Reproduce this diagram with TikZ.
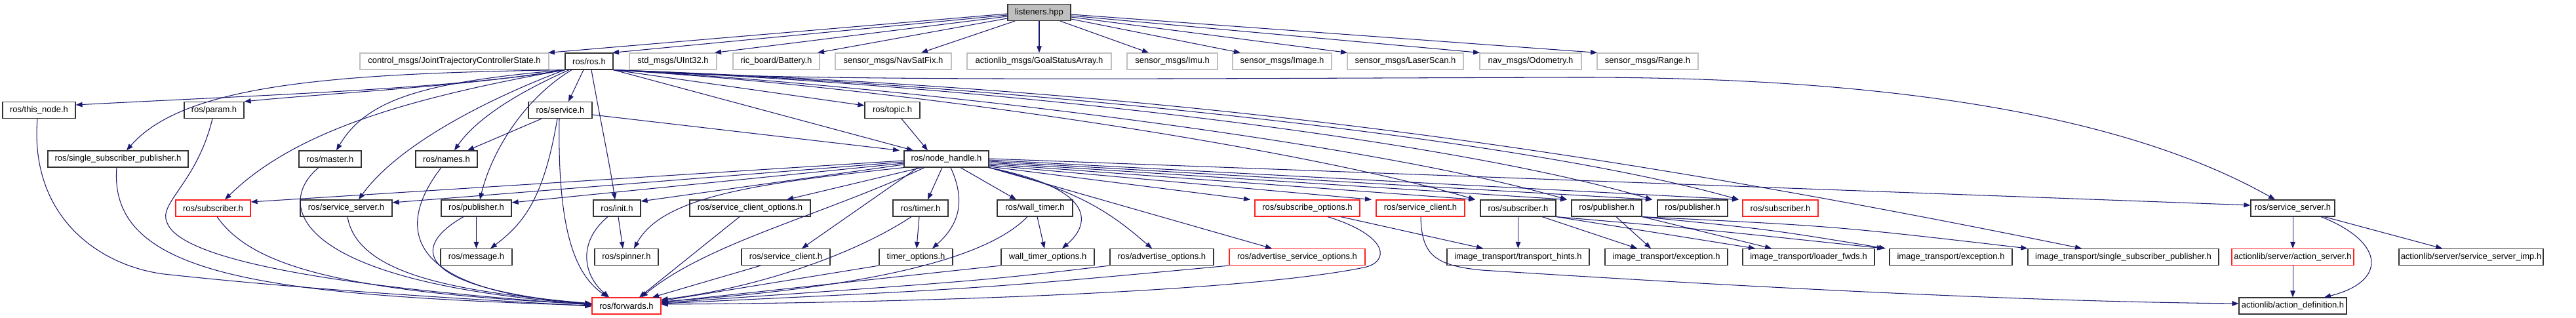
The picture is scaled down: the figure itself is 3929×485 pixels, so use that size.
\documentclass[tikz,border=0pt]{standalone}
\usepackage{fontspec}
\setmainfont{Liberation Sans}
\usetikzlibrary{arrows.meta}
\definecolor{edgec}{HTML}{191970}
\definecolor{grayb}{HTML}{BFBFBF}
\definecolor{boxb}{HTML}{333333}
\definecolor{redb}{HTML}{FF2020}
\tikzset{
  nb/.style={draw=boxb, line width=1.2bp, minimum height=25bp, inner sep=0pt,
    font=\fontsize{13bp}{15bp}\selectfont, text=black},
  ng/.style={nb, draw=grayb},
  nr/.style={nb, draw=redb},
  wd/.style={minimum width=#1bp},
  e/.style={draw=edgec, line width=1.05bp, -{Triangle[length=10bp,width=7.5bp]}},
}
\begin{document}
\begin{tikzpicture}[x=1bp,y=-1bp]
\useasboundingbox[fill=white] (0,0) rectangle (3929,485);
% row 0
\node[nb,fill=grayb,wd=96] (lis) at (1585,19) {listeners.hpp};
% row 1
\node[ng,wd=288] (cms) at (693,93.5) {control\_msgs/JointTrajectoryControllerState.h};
\node[nb,wd=73] (ros) at (898.5,93.5) {ros/ros.h};
\node[ng,wd=133] (u32) at (1026.5,93.5) {std\_msgs/UInt32.h};
\node[ng,wd=132] (bat) at (1184,93.5) {ric\_board/Battery.h};
\node[ng,wd=177] (nsf) at (1362.5,93.5) {sensor\_msgs/NavSatFix.h};
\node[ng,wd=220] (gsa) at (1585,93.5) {actionlib\_msgs/GoalStatusArray.h};
\node[ng,wd=138] (imu) at (1788,93.5) {sensor\_msgs/Imu.h};
\node[ng,wd=151] (img) at (1955.5,93.5) {sensor\_msgs/Image.h};
\node[ng,wd=177] (las) at (2143.5,93.5) {sensor\_msgs/LaserScan.h};
\node[ng,wd=155] (odo) at (2334.5,93.5) {nav\_msgs/Odometry.h};
\node[ng,wd=154] (rng) at (2513,93.5) {sensor\_msgs/Range.h};
% row 2
\node[nb,wd=111] (tn) at (59.5,168) {ros/this\_node.h};
\node[nb,wd=91] (par) at (326.5,168) {ros/param.h};
\node[nb,wd=97] (srv) at (854.5,168) {ros/service.h};
\node[nb,wd=84] (top) at (1361,168) {ros/topic.h};
% row 3
\node[nb,wd=214] (ssp) at (180,242.5) {ros/single\_subscriber\_publisher.h};
\node[nb,wd=95] (mas) at (503.5,242.5) {ros/master.h};
\node[nb,wd=94] (nam) at (681,242.5) {ros/names.h};
\node[nb,wd=129] (nh) at (1443.5,242.5) {ros/node\_handle.h};
% row 4
\node[nr,wd=114] (subL) at (325,317.5) {ros/subscriber.h};
\node[nb,wd=140] (ssL) at (528,317.5) {ros/service\_server.h};
\node[nb,wd=107] (pubL) at (726.5,317.5) {ros/publisher.h};
\node[nb,wd=72] (ini) at (941,317.5) {ros/init.h};
\node[nb,wd=184] (sco) at (1144,317.5) {ros/service\_client\_options.h};
\node[nb,wd=84] (tim) at (1404,317.5) {ros/timer.h};
\node[nb,wd=115] (wt) at (1578.5,317.5) {ros/wall\_timer.h};
\node[nr,wd=160] (so) at (1994,317.5) {ros/subscribe\_options.h};
\node[nr,wd=135] (scR) at (2166.5,317.5) {ros/service\_client.h};
\node[nb,wd=115] (subB) at (2315.5,317.5) {ros/subscriber.h};
\node[nb,wd=107] (pub1) at (2450.5,317.5) {ros/publisher.h};
\node[nb,wd=107] (pub2) at (2581.5,317.5) {ros/publisher.h};
\node[nr,wd=115] (subR) at (2715.5,317.5) {ros/subscriber.h};
\node[nb,wd=128] (ssR) at (3497,317.5) {ros/service\_server.h};
% row 5
\node[nb,wd=109] (msg) at (726.5,392) {ros/message.h};
\node[nb,wd=97] (spn) at (955.5,392) {ros/spinner.h};
\node[nb,wd=135] (sc) at (1198.5,392) {ros/service\_client.h};
\node[nb,wd=112] (tmo) at (1397,392) {timer\_options.h};
\node[nb,wd=142] (wto) at (1598,392) {wall\_timer\_options.h};
\node[nb,wd=158] (ao) at (1772,392) {ros/advertise\_options.h};
\node[nr,wd=207] (aso) at (1978.5,392) {ros/advertise\_service\_options.h};
\node[nb,wd=217] (th) at (2315.5,392) {image\_transport/transport\_hints.h};
\node[nb,wd=187] (ex1) at (2541.5,392) {image\_transport/exception.h};
\node[nb,wd=201] (lf) at (2758.5,392) {image\_transport/loader\_fwds.h};
\node[nb,wd=187] (ex2) at (2975.5,392) {image\_transport/exception.h};
\node[nb,wd=291] (itssp) at (3238.5,392) {image\_transport/single\_subscriber\_publisher.h};
\node[nr,wd=186] (acs) at (3497,392) {actionlib/server/action\_server.h};
\node[nb,wd=220] (ssi) at (3769,392) {actionlib/server/service\_server\_imp.h};
% row 6
\node[nr,wd=105] (fwd) at (955.5,466.5) {ros/forwards.h};
\node[nb,wd=164] (ad) at (3497,466.5) {actionlib/action\_definition.h};

% ---- listeners.hpp
\draw[e] (lis.west |- 0,21) -- (cms.north -| 836,0);
\draw[e] (lis.west |- 0,23) -- (ros.north -| 934,0);
\draw[e] (lis.west |- 0,25) -- (u32.north -| 1090,0);
\draw[e] (lis.west |- 0,28) -- (bat.north -| 1247,0);
\draw[e] (lis.south -| 1548,0) -- (nsf.north -| 1405,0);
\draw[e] (lis.south) -- (gsa.north);
\draw[e] (lis.south -| 1617,0) -- (imu.north -| 1752,0);
\draw[e] (lis.east |- 0,29) -- (img.north -| 1892,0);
\draw[e] (lis.east |- 0,26) -- (las.north -| 2055,0);
\draw[e] (lis.east |- 0,24) -- (odo.north -| 2257,0);
\draw[e] (lis.east |- 0,22) -- (rng.north -| 2436,0);

% ---- ros/ros.h
\draw[e] (ros.south west) .. controls (700,135) and (400,145) .. (tn.east |- 0,160);
\draw[e] (ros.south west) .. controls (700,133) and (500,142) .. (par.north east);
\draw[e] (ros.south west) .. controls (500,112) and (280,130) .. (ssp.north -| 193,0);
\draw[e] (ros.south west) .. controls (620,150) and (450,200) .. (subL.north -| 343,0);
\draw[e] (ros.south west) .. controls (650,125) and (560,150) .. (mas.north -| 513,0);
\draw[e] (ros.south west) .. controls (720,160) and (600,230) .. (ssL.north -| 547,0);
\draw[e] (ros.south -| 868,0) .. controls (770,150) and (720,190) .. (nam.north -| 693,0);
\draw[e] (ros.south -| 872,0) .. controls (800,150) and (750,230) .. (pubL.north -| 732,0);
\draw[e] (ros.south -| 890,0) -- (srv.north -| 867,0);
\draw[e] (ros.south -| 902,0) .. controls (915,180) and (930,250) .. (ini.north -| 938,0);
\draw[e] (ros.south east) -- (top.west |- 0,161);
\draw[e] (ros.south east) -- (nh.north -| 1393,0);
\draw[e] (ros.south east) .. controls (1200,125) and (1700,120) .. (2400,118) .. controls (2900,117) and (3250,180) .. (ssR.north -| 3470,0);
\draw[e] (ros.south east) .. controls (1700,135) and (2300,200) .. (itssp.north -| 3175,0);
\draw[e] (ros.south east) .. controls (1400,135) and (2000,230) .. (subB.north -| 2250,0);
\draw[e] (ros.south east) .. controls (1400,132) and (2100,220) .. (pub1.north -| 2390,0);
\draw[e] (ros.south east) .. controls (1500,130) and (2200,210) .. (pub2.north -| 2520,0);
\draw[e] (ros.south east) .. controls (1500,128) and (2300,205) .. (subR.north -| 2652,0);

% ---- ros/service.h, ros/topic.h
\draw[e] (top.south -| 1375,0) -- (nh.north -| 1415,0);
\draw[e] (srv.east |- 0,175) -- (nh.north -| 1372,0);
\draw[e] (srv.south -| 826,0) -- (nam.north -| 713,0);
\draw[e] (srv.south -| 850,0) .. controls (830,300) and (800,340) .. (msg.north -| 748,0);
\draw[e] (srv.south -| 853,0) .. controls (850,360) and (880,420) .. (fwd.north -| 927,0);

% ---- into ros/forwards.h from the left
\draw[e] (pubL.south) -- (msg.north);
\draw[e] (pubL.south -| 707,0) .. controls (620,380) and (640,440) .. (fwd.west |- 0,464);
\draw[e] (nam.south -| 673,0) .. controls (600,350) and (620,445) .. (fwd.west |- 0,463);
\draw[e] (ssL.south -| 530,0) .. controls (545,420) and (700,445) .. (fwd.west |- 0,463);
\draw[e] (mas.south -| 486,0) .. controls (420,310) and (440,430) .. (fwd.west |- 0,464);
\draw[e] (subL.south -| 331,0) .. controls (380,400) and (500,445) .. (fwd.west |- 0,464);
\draw[e] (par.south -| 324,0) .. controls (300,280) and (240,310) .. (255,340) .. controls (270,380) and (400,430) .. (fwd.west |- 0,465);
\draw[e] (ssp.south -| 178,0) .. controls (165,420) and (400,450) .. (fwd.west |- 0,466);
\draw[e] (tn.south -| 57,0) .. controls (45,330) and (150,405) .. (250,418) .. controls (500,445) and (750,458) .. (fwd.west |- 0,467);

% ---- ros/init.h
\draw[e] (ini.south -| 927,0) .. controls (880,370) and (890,420) .. (fwd.north -| 929,0);
\draw[e] (ini.south -| 943,0) -- (spn.north -| 950,0);

% ---- ros/node_handle.h
\draw[e] (nh.south west) .. controls (1150,280) and (1010,300) .. (spn.north -| 967,0);
\draw[e] (nh.west |- 0,245) -- (subL.east |- 0,308);
\draw[e] (nh.west |- 0,247) -- (ssL.east |- 0,309);
\draw[e] (nh.west |- 0,249) -- (pubL.east |- 0,309);
\draw[e] (nh.west |- 0,251) -- (ini.east |- 0,307);
\draw[e] (nh.south -| 1405,0) -- (sco.north -| 1200,0);
\draw[e] (nh.south -| 1410,0) .. controls (1250,330) and (1080,370) .. (fwd.north -| 978,0);
\draw[e] (nh.south -| 1400,0) -- (sc.north -| 1223,0);
\draw[e] (nh.south -| 1437,0) -- (tim.north -| 1415,0);
\draw[e] (nh.south -| 1450,0) .. controls (1475,310) and (1460,345) .. (tmo.north -| 1422,0);
\draw[e] (nh.south -| 1465,0) -- (wt.north -| 1550,0);
\draw[e] (nh.south east) .. controls (1680,290) and (1660,345) .. (wto.north -| 1620,0);
\draw[e] (nh.south east) .. controls (1650,290) and (1700,330) .. (ao.north -| 1757,0);
\draw[e] (nh.south east) -- (aso.north -| 1940,0);
\draw[e] (nh.east |- 0,254) -- (so.north -| 1907,0);
\draw[e] (nh.east |- 0,252) -- (scR.north -| 2092,0);
\draw[e] (nh.east |- 0,250) -- (subB.north -| 2250,0);
\draw[e] (nh.east |- 0,248) -- (pub1.north -| 2390,0);
\draw[e] (nh.east |- 0,246) -- (pub2.north -| 2520,0);
\draw[e] (nh.east |- 0,244) -- (subR.north -| 2652,0);
\draw[e] (nh.east |- 0,242) -- (ssR.west |- 0,313);

% ---- timers, options, clients
\draw[e] (tim.south -| 1402,0) -- (tmo.north -| 1398,0);
\draw[e] (tim.south -| 1390,0) .. controls (1300,390) and (1150,440) .. (fwd.east |- 0,457);
\draw[e] (tmo.south west) -- (fwd.east |- 0,459);
\draw[e] (sc.south -| 1160,0) -- (fwd.north -| 995,0);
\draw[e] (sco.south -| 1128,0) -- (fwd.north -| 975,0);
\draw[e] (wt.south -| 1567,0) .. controls (1500,400) and (1300,440) .. (fwd.east |- 0,460);
\draw[e] (wt.south -| 1582,0) -- (wto.north -| 1593,0);
\draw[e] (wto.south west) -- (fwd.east |- 0,461);
\draw[e] (ao.south west) .. controls (1500,428) .. (fwd.east |- 0,462);
\draw[e] (aso.south west) .. controls (1500,440) .. (fwd.east |- 0,463);
\draw[e] (so.south -| 2025,0) .. controls (2120,360) and (2120,400) .. (2080,408) .. controls (1900,445) and (1400,462) .. (fwd.east |- 0,464);
\draw[e] (so.south -| 2045,0) -- (th.north -| 2262,0);
\draw[e] (scR.south -| 2167,0) .. controls (2168,390) and (2190,405) .. (2260,412) .. controls (2700,440) and (3100,460) .. (ad.west |- 0,463);

% ---- image_transport
\draw[e] (subB.south) -- (th.north -| 2315.5,0);
\draw[e] (subB.south -| 2352,0) -- (ex1.north -| 2497,0);
\draw[e] (subB.south east) -- (lf.north -| 2677,0);
\draw[e] (subB.south east) .. controls (2600,350) .. (ex2.north -| 2873,0);
\draw[e] (pub1.south -| 2465,0) -- (ex1.north -| 2518,0);
\draw[e] (pub1.south east) -- (lf.north -| 2702,0);
\draw[e] (pub1.south east) .. controls (2700,350) .. (ex2.north -| 2876,0);
\draw[e] (pub1.south east) .. controls (2800,345) .. (itssp.north west);

% ---- actionlib
\draw[e] (ssR.south) -- (acs.north);
\draw[e] (ssR.south -| 3540,0) .. controls (3640,370) and (3640,430) .. (ad.north -| 3545,0);
\draw[e] (ssR.south -| 3545,0) -- (ssi.north -| 3725,0);
\draw[e] (acs.south) -- (ad.north);
\end{tikzpicture}
\end{document}
